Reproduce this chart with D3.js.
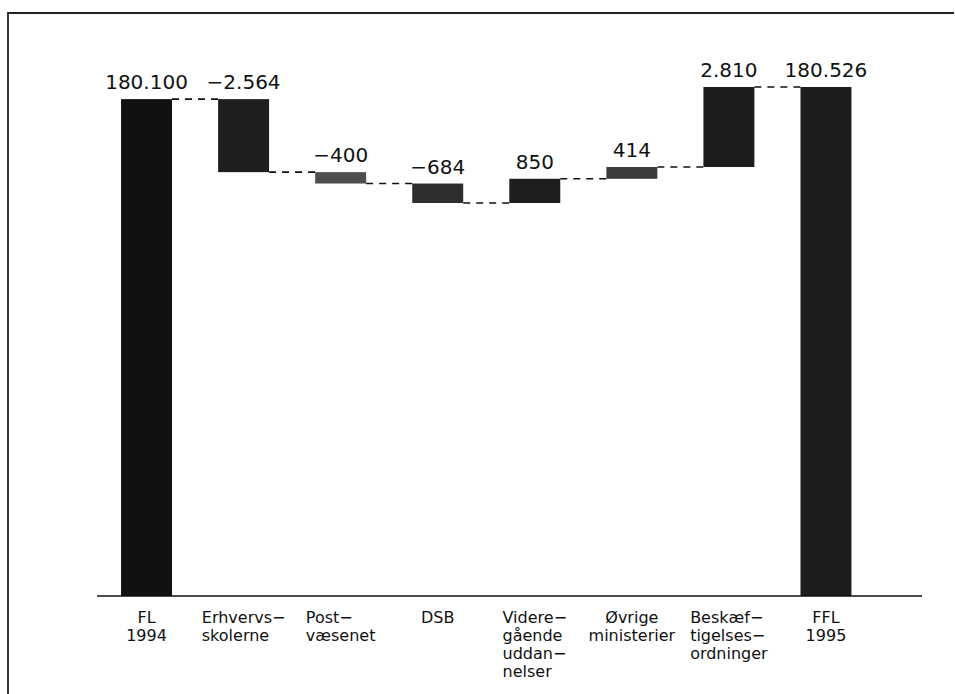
<!DOCTYPE html>
<html>
<head>
<meta charset="utf-8">
<script src="https://cdn.jsdelivr.net/npm/d3@7"></script>
<style>
  html, body { margin: 0; padding: 0; background: #fff; }
  svg { display: block; }
  text { font-family: "DejaVu Sans", sans-serif; fill: #111; }
</style>
</head>
<body>
<svg id="chart" width="955" height="694"></svg>
<script>
// ---- data ----
const categoryLines = [
  ["FL", "1994"],
  ["Erhvervs−", "skolerne"],
  ["Post−", "væsenet"],
  ["DSB"],
  ["Videre−", "gående", "uddan−", "nelser"],
  ["Øvrige", "ministerier"],
  ["Beskæf−", "tigelses−", "ordninger"],
  ["FFL", "1995"]
];
const startTotal = 180100;                              // FL 1994
const deltas = [-2564, -400, -684, 850, 414, 2810];     // changes
const endTotal = 180526;                                // FFL 1995
const axisFloor = 162650;                               // value at the (broken) base line

// ---- styles ----
const barFill = ["#111", "#1e1e1e", "#4e4e4e", "#2e2e2e", "#1e1e1e", "#3c3c3c", "#1c1c1c", "#1c1c1c"];

// ---- build waterfall records ----
const bars = [];
bars.push({ i: 0, lo: axisFloor, hi: startTotal, value: startTotal, end: startTotal });
let level = startTotal;
deltas.forEach((d, k) => {
  const next = level + d;
  bars.push({ i: k + 1, lo: Math.min(level, next), hi: Math.max(level, next), value: d, end: next });
  level = next;
});
bars.push({ i: bars.length, lo: axisFloor, hi: endTotal, value: endTotal, end: endTotal });

const svg = d3.select("#chart");

// frame
svg.append("path")
  .attr("d", "M8,700 L8,13 L954,13")
  .attr("fill", "none").attr("stroke", "#222").attr("stroke-width", 1.8);

const x = d3.scaleBand()
  .domain(d3.range(categoryLines.length))
  .range([98, 874.5])
  .paddingInner(0.475)
  .paddingOuter(0.2375);

const y = d3.scaleLinear()
  .domain([axisFloor, endTotal])
  .range([596, 87]);

const fmt = d3.formatLocale({ decimal: ",", thousands: ".", grouping: [3], currency: ["", " kr"], minus: "\u2212" }).format(",d");

// bars
svg.append("g").selectAll("rect")
  .data(bars).join("rect")
  .attr("x", d => x(d.i))
  .attr("width", x.bandwidth())
  .attr("y", d => y(d.hi))
  .attr("height", d => y(d.lo) - y(d.hi))
  .attr("fill", (d, k) => barFill[k]);

// dashed connectors
const links = bars.slice(0, -1).map((b, k) => ({ from: b, to: bars[k + 1], v: b.end }));
svg.append("g").selectAll("line")
  .data(links).join("line")
  .attr("x1", d => x(d.from.i) + x.bandwidth())
  .attr("x2", d => x(d.to.i))
  .attr("y1", d => y(d.v))
  .attr("y2", d => y(d.v))
  .attr("stroke", "#111")
  .attr("stroke-width", 1.6)
  .attr("stroke-dasharray", "7,6");

// value labels
svg.append("g").selectAll("text")
  .data(bars).join("text")
  .attr("x", d => x(d.i) + x.bandwidth() / 2)
  .attr("y", d => y(d.hi) - 10)
  .attr("text-anchor", "middle")
  .attr("font-size", 20)
  .text(d => fmt(d.value));

// base axis line
svg.append("line")
  .attr("x1", 97).attr("x2", 922)
  .attr("y1", y(axisFloor)).attr("y2", y(axisFloor))
  .attr("stroke", "#111").attr("stroke-width", 1.6);

// category labels
const labG = svg.append("g");
categoryLines.forEach((lines, i) => {
  const cx = x(i) + x.bandwidth() / 2;
  const hyphenated = lines.some(l => l.endsWith("−"));
  const t = labG.append("text")
    .attr("font-size", 16)
    .attr("y", y(axisFloor) + 27);
  lines.forEach((l, j) => {
    t.append("tspan").attr("dy", j === 0 ? 0 : 18).text(l);
  });
  if (hyphenated) {
    let w = 0;
    t.selectAll("tspan").each(function () { w = Math.max(w, this.getComputedTextLength()); });
    t.attr("text-anchor", "start");
    t.selectAll("tspan").attr("x", cx - w / 2);
  } else {
    t.attr("text-anchor", "middle");
    t.selectAll("tspan").attr("x", cx);
  }
});
</script>
</body>
</html>
